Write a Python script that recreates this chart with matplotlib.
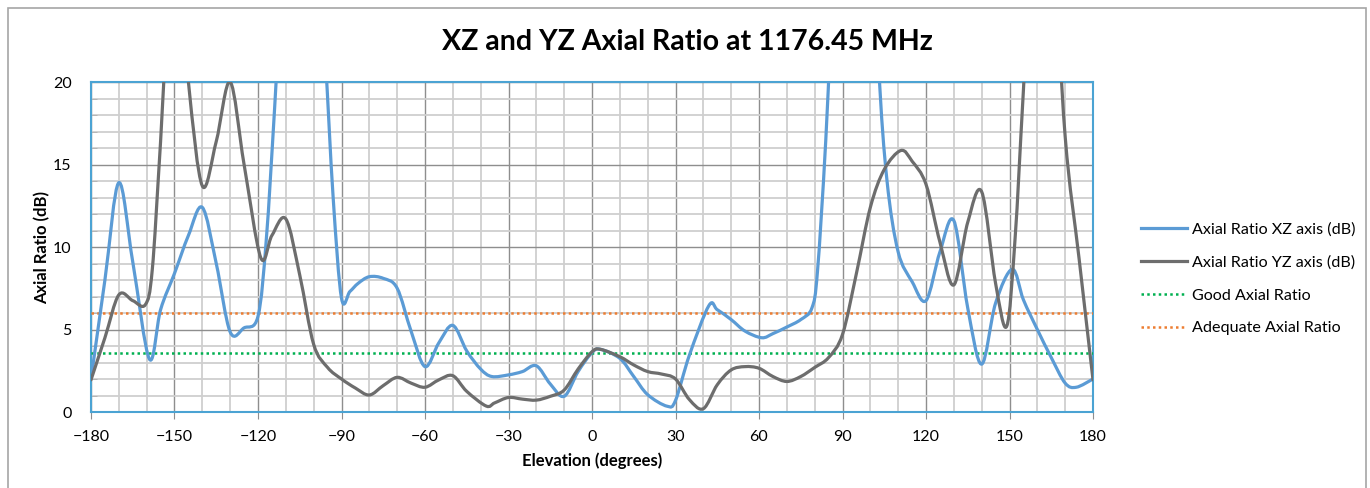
import numpy as np
import matplotlib
matplotlib.use("Agg")
import matplotlib.pyplot as plt
from matplotlib.path import Path
from matplotlib.patches import PathPatch, Rectangle
from matplotlib.lines import Line2D
from matplotlib.ticker import MultipleLocator

# ---------------- data ----------------
title = "XZ and YZ Axial Ratio at 1176.45 MHz"
x_label = "Elevation (degrees)"
y_label = "Axial Ratio (dB)"
series_names = ["Axial Ratio XZ axis (dB)", "Axial Ratio YZ axis (dB)",
                "Good Axial Ratio", "Adequate Axial Ratio"]

xz_angle = [-180, -175, -170, -165, -159, -155, -150, -145, -140, -135, -130, -125,
            -120, -117, -114, -110, -105, -100, -96, -93, -90, -87, -84, -80, -75, -70, -65, -60,
            -55, -50, -45, -40, -36, -30, -25, -20, -15, -10, -5, 0, 3, 10, 15, 20,
            27, 30, 35, 42, 45, 50, 55, 61, 65, 70, 75, 79, 81, 84, 88, 95, 100, 103, 106,
            110, 115, 120, 125, 130, 135, 140, 145, 151, 155, 160, 165, 170, 174, 180]
xz_ratio = [2.0, 8.0, 13.9, 9.1, 3.2, 6.2, 8.4, 10.7, 12.4, 9.0, 4.85, 5.1,
            5.8, 10.5, 18.5, 30.0, 36.0, 32.0, 22.0, 13.0, 6.9, 7.3, 7.8, 8.2, 8.1, 7.5, 4.9, 2.75,
            4.2, 5.25, 3.7, 2.6, 2.15, 2.25, 2.45, 2.8, 1.7, 0.95, 2.45, 3.6, 3.8, 3.25, 2.15, 1.05,
            0.35, 0.7, 3.45, 6.45, 6.2, 5.6, 4.9, 4.5, 4.75, 5.15, 5.6, 6.3, 8.5, 16.5, 30.0, 42.0, 34.0, 21.0, 14.0,
            9.7, 7.9, 6.75, 9.7, 11.6, 6.3, 2.9, 6.6, 8.65, 6.8, 5.0, 3.3, 1.75, 1.5, 2.0]

yz_angle = [-180, -175, -170, -165, -160.5, -158, -155, -150, -145, -140, -135, -130, -125,
            -119, -115, -110, -105, -100, -95, -90, -85, -80, -75, -70, -65, -60,
            -55, -50, -45, -38, -35, -30, -25, -20, -15, -10, -5, 0, 3, 10, 15, 20,
            25, 30, 35, 40, 45, 50, 55, 60, 65, 70, 75, 80, 85, 90, 95, 100, 105,
            111, 115, 120, 125, 130, 135, 140, 145, 149, 152, 155, 160, 165, 170, 175, 180]
yz_ratio = [1.95, 4.5, 7.1, 6.75, 6.5, 8.6, 16.4, 30.0, 20.0, 13.7, 16.4, 20.0, 15.0,
            9.35, 10.7, 11.7, 8.3, 4.1, 2.7, 2.0, 1.45, 1.03, 1.6, 2.1, 1.75, 1.5,
            1.95, 2.2, 1.25, 0.36, 0.55, 0.88, 0.78, 0.72, 0.95, 1.33, 2.6, 3.65, 3.8, 3.35, 2.85, 2.45,
            2.3, 2.0, 0.75, 0.2, 1.65, 2.55, 2.75, 2.65, 2.15, 1.85, 2.15, 2.7, 3.3, 4.7, 8.4, 12.4, 14.7,
            15.85, 15.2, 13.8, 10.3, 7.7, 11.5, 13.35, 7.8, 5.2, 10.5, 19.5, 34.0, 30.0, 16.7, 9.3, 1.95]

good_ratio = 3.6
adequate_ratio = 6.0
x_ticks = [-180, -150, -120, -90, -60, -30, 0, 30, 60, 90, 120, 150, 180]
y_ticks = [0, 5, 10, 15, 20]

# ---------------- style ----------------
FONT = ["Lato", "DejaVu Sans"]
plt.rcParams["font.family"] = FONT
C_XZ = "#5B9BD5"
C_YZ = "#6D6D6D"
C_GOOD = "#00B050"
C_ADEQ = "#ED7D31"
C_SPINE = "#4BA3D3"


def smooth_path(xs, ys):
    pts = np.column_stack([xs, ys]).astype(float)
    n = len(pts)
    verts = [pts[0]]
    codes = [Path.MOVETO]
    for i in range(n - 1):
        p0 = pts[i - 1] if i > 0 else pts[i]
        p1 = pts[i]
        p2 = pts[i + 1]
        p3 = pts[i + 2] if i + 2 < n else pts[i + 1]
        c1 = p1 + (p2 - p0) / 6.0
        c2 = p2 - (p3 - p1) / 6.0
        verts += [c1, c2, p2]
        codes += [Path.CURVE4] * 3
    return Path(verts, codes)


fig = plt.figure(figsize=(13.7, 4.88), dpi=100)
fig.patches.append(Rectangle((7.5 / 1370, -0.05), (1366 - 7.5) / 1370, 1.05 - 8 / 488,
                             transform=fig.transFigure, fill=False,
                             edgecolor="#A6A6A6", lw=1.2))

ax = fig.add_axes([91 / 1370, 1 - 412 / 488, (1093 - 91) / 1370, (412 - 82) / 488])
ax.set_xlim(-180, 180)
ax.set_ylim(0, 20)

ax.xaxis.set_major_locator(MultipleLocator(30))
ax.xaxis.set_minor_locator(MultipleLocator(10))
ax.yaxis.set_major_locator(MultipleLocator(5))
ax.yaxis.set_minor_locator(MultipleLocator(1))
ax.set_xticks(x_ticks)
ax.set_yticks(y_ticks)
ax.grid(which="minor", color="#CFCFCF", lw=1.3)
ax.grid(which="major", color="#8E8E8E", lw=1.0)
ax.set_axisbelow(True)

for s in ax.spines.values():
    s.set_color(C_SPINE)
    s.set_linewidth(1.5)

ax.tick_params(axis="x", which="major", direction="out", length=5, color="#8E8E8E",
               labelsize=11.5, pad=8)
ax.tick_params(axis="x", which="minor", length=0)
ax.tick_params(axis="y", which="major", length=0, labelsize=11.5, pad=14)
ax.tick_params(axis="y", which="minor", direction="in", length=4, color="#B0B0B0")

ax.axhline(good_ratio, color=C_GOOD, lw=1.8, linestyle=(0, (1, 1.3)), zorder=3)
ax.axhline(adequate_ratio, color=C_ADEQ, lw=1.8, linestyle=(0, (1, 1.3)), zorder=3)

ax.add_patch(PathPatch(smooth_path(xz_angle, xz_ratio), fill=False, edgecolor=C_XZ,
                       lw=2.3, transform=ax.transData, zorder=4, capstyle="round",
                       joinstyle="round"))
ax.add_patch(PathPatch(smooth_path(yz_angle, yz_ratio), fill=False, edgecolor=C_YZ,
                       lw=2.3, transform=ax.transData, zorder=4, capstyle="round",
                       joinstyle="round"))

fig.text(0.5015, 1 - 42 / 488, title, ha="center", va="center", fontsize=20.5,
         fontweight="bold")
ax.set_xlabel(x_label, fontsize=12, fontweight="bold", labelpad=6)
ax.set_ylabel(y_label, fontsize=12, fontweight="bold", labelpad=2)

handles = [
    Line2D([], [], color=C_XZ, lw=2.3),
    Line2D([], [], color=C_YZ, lw=2.3),
    Line2D([], [], color=C_GOOD, lw=1.8, linestyle=(0, (1, 1.3))),
    Line2D([], [], color=C_ADEQ, lw=1.8, linestyle=(0, (1, 1.3))),
]
fig.legend(handles, series_names, loc="center left",
           bbox_to_anchor=(1126 / 1370, 1 - 279 / 488), frameon=False,
           fontsize=11.6, handlelength=2.9, handletextpad=0.3, labelspacing=1.15)

fig.savefig("out.png", dpi=100)
